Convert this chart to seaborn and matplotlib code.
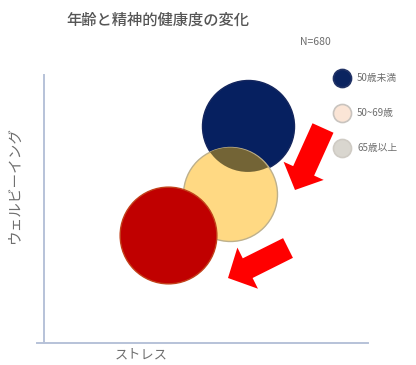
import numpy as np
import pandas as pd
import seaborn as sns
import matplotlib
matplotlib.use("Agg")
import matplotlib.pyplot as plt
from matplotlib.lines import Line2D
from matplotlib.patches import Circle, FancyArrow
from matplotlib.transforms import IdentityTransform

# Age groups and their average position on the stress / well-being plane
groups = ["50歳未満", "50~69歳", "65歳以上"]
stress = [63.7, 58.3, 39.6]
wellbeing = [81.0, 55.6, 40.3]
bubble_size = [4390, 4580, 4850]

fill_colors = ["#062060", "#FFD983", "#C00000"]
edge_colors = ["#14265E", "#BDB08C", "#C2401A"]
overlap_color = "#736436"

legend_colors = ["#0B2460", "#FBE5D6", "#D9D6CF"]
legend_edges = ["#223366", "#C9C4BF", "#CFCBC4"]

title = "年齢と精神的健康度の変化"
sample_note = "N=680"
x_label = "ストレス"
y_label = "ウェルビーイング"

df = pd.DataFrame({"group": groups, "stress": stress, "wellbeing": wellbeing,
                   "size": bubble_size})

sns.set_theme(style="white")
plt.rcParams["font.family"] = ["Noto Sans CJK JP", "DejaVu Sans"]

W, H, DPI = 416, 365, 100
fig = plt.figure(figsize=(W / DPI, H / DPI), dpi=DPI)
fig.patch.set_facecolor("white")
ax = fig.add_axes([37 / W, 1 - 343 / H, 331 / W, 268 / H])
ax.set_xlim(0, 100)
ax.set_ylim(0, 100)

# bubbles: navy first, yellow over it, red on top
z_order = {0: 2, 1: 3, 2: 5}
for i, row in df.iterrows():
    sns.scatterplot(data=df.iloc[[i]], x="stress", y="wellbeing", s=row["size"],
                    color=fill_colors[i], edgecolor=edge_colors[i],
                    linewidth=1.0, ax=ax, zorder=z_order[i], legend=False)

fig.canvas.draw()

# darker blend where the yellow bubble overlaps the navy one
cx, cy = ax.transData.transform((stress[1], wellbeing[1]))
r_px = np.sqrt(bubble_size[1]) / 2 * DPI / 72
clip = Circle((cx, cy), r_px - 0.5, transform=IdentityTransform())
over = ax.scatter([stress[0]], [wellbeing[0]], s=bubble_size[0],
                  color=overlap_color, edgecolor="none", zorder=4)
over.set_clip_path(clip)

# axis lines
for side in ["top", "right"]:
    ax.spines[side].set_visible(False)
ax.spines["left"].set_position(("axes", 7 / 331))
for side in ["left", "bottom"]:
    ax.spines[side].set_color("#B7C2D8")
    ax.spines[side].set_linewidth(1.4)
ax.set_xticks([])
ax.set_yticks([])
ax.set_xlabel("")
ax.set_ylabel("")

# red arrows showing the shift with age (figure inches)
def red_arrow(x0, y0, x1, y1, w, hw, hl):
    arr = FancyArrow(x0 / DPI, (H - y0) / DPI, (x1 - x0) / DPI, -(y1 - y0) / DPI,
                     width=w / DPI, head_width=hw / DPI, head_length=hl / DPI,
                     length_includes_head=True, color="#FF0000", lw=0,
                     transform=fig.dpi_scale_trans)
    fig.add_artist(arr)

red_arrow(323, 128, 295, 190, 23, 44, 21)
red_arrow(288, 248, 228, 278, 22, 46, 22)

# texts
text_color = "#6E6E6E"
fig.text(158 / W, 1 - 20 / H, title, ha="center", va="center",
         fontsize=11, color="#555555", fontweight="medium")
fig.text(315 / W, 1 - 42 / H, sample_note, ha="center", va="center",
         fontsize=7.5, color=text_color)
fig.text(141 / W, 1 - 355 / H, x_label, ha="center", va="center",
         fontsize=9.5, color=text_color)
fig.text(15 / W, 1 - 185 / H, y_label, ha="center", va="center",
         rotation=90, fontsize=10.5, color=text_color)

# legend
for i, lab in enumerate(groups):
    ly = [78, 113, 148][i]
    fig.add_artist(Line2D([342 / W], [1 - ly / H], marker="o", markersize=13,
                          markerfacecolor=legend_colors[i],
                          markeredgecolor=legend_edges[i], markeredgewidth=1.2,
                          linestyle="none", transform=fig.transFigure))
    fig.text(357 / W, 1 - ly / H, lab, ha="left", va="center",
             fontsize=7, color=text_color)

fig.savefig("out.png", dpi=DPI)
